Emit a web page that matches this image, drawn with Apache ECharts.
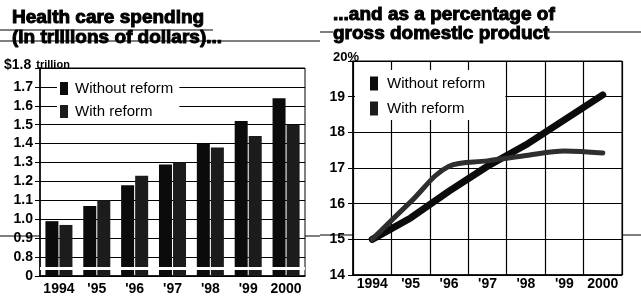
<!doctype html>
<html>
<head>
<meta charset="utf-8">
<title>Health care spending</title>
<script src="https://cdn.jsdelivr.net/npm/echarts@6/dist/echarts.min.js"></script>
<style>
    html, body { margin: 0; padding: 0; background: #fff; }
    #chart { width: 641px; height: 306px; }
</style>
</head>
<body>
<div id="chart"></div>
<script type="text/javascript">
    // years on both panels
    var years = ['1994', "'95", "'96", "'97", "'98", "'99", '2000'];
    // spending, trillions of dollars
    var spendWithout = [0.99, 1.07, 1.18, 1.29, 1.40, 1.52, 1.64];
    var spendWith = [0.97, 1.10, 1.23, 1.30, 1.38, 1.44, 1.50];
    // share of GDP, percent
    var gdpWithout = [15.0, 15.6, 16.35, 17.05, 17.65, 18.35, 19.05];
    var gdpWith = [15.0, 16.05, 17.05, 17.2, 17.35, 17.48, 17.42];
    var legendNames = ['Without reform', 'With reform'];

    var ink = '#000';
    var tickFont = { color: ink, fontSize: 14, fontWeight: 'bold', fontFamily: 'Liberation Sans' };

    function rule(x1, y1, x2, y2) {
        return { type: 'line', shape: { x1: x1, y1: y1, x2: x2, y2: y2 }, style: { stroke: ink, lineWidth: 1 } };
    }

    var myChart = echarts.init(document.getElementById('chart'));
    var option = {
        backgroundColor: '#fff',
        animation: false,
        textStyle: { fontFamily: 'Liberation Sans' },
        title: [
            {
                text: 'Health care spending\n(in trillions of dollars)...',
                left: 12, top: 8, padding: 0,
                textStyle: { fontSize: 19, fontWeight: 'bold', lineHeight: 20, color: ink, textBorderColor: ink, textBorderWidth: 1 }
            },
            {
                text: '...and as a percentage of\ngross domestic product',
                left: 333, top: 5, padding: 0,
                textStyle: { fontSize: 19, fontWeight: 'bold', lineHeight: 19, color: ink, textBorderColor: ink, textBorderWidth: 1 }
            },
            {
                text: '{a|$1.8} {b|trillion}',
                left: 4, top: 56, padding: 0,
                textStyle: {
                    rich: {
                        a: { fontSize: 14, fontWeight: 'bold', color: ink },
                        b: { fontSize: 11, fontWeight: 'bold', color: ink }
                    }
                }
            },
            {
                text: '20%',
                left: 333, top: 51, padding: 0,
                textStyle: { fontSize: 13, fontWeight: 'bold', color: ink }
            }
        ],
        legend: [
            {
                data: legendNames,
                orient: 'vertical',
                left: 57, top: 78,
                padding: [3, 6, 3, 3],
                itemWidth: 8, itemHeight: 13, itemGap: 8,
                icon: 'rect',
                backgroundColor: '#fff',
                selectedMode: false,
                textStyle: { fontSize: 15, color: ink, padding: [0, 0, 0, 2] }
            },
            {
                data: legendNames,
                orient: 'vertical',
                left: 355, top: 70,
                padding: [6, 20, 4, 15],
                itemWidth: 8, itemHeight: 14, itemGap: 10,
                icon: 'rect',
                backgroundColor: '#fff',
                selectedMode: false,
                textStyle: { fontSize: 15, color: ink, padding: [0, 0, 0, 4] }
            }
        ],
        grid: [
            { left: 40, right: 336, top: 68, bottom: 30, show: true, borderColor: ink, borderWidth: 1 },
            { left: 353, right: 19, top: 61, bottom: 31, show: true, borderColor: ink, borderWidth: 1 }
        ],
        xAxis: [
            {
                type: 'category', gridIndex: 0, data: years,
                axisLine: { lineStyle: { color: ink, width: 1.5 } },
                axisTick: { show: false },
                axisLabel: Object.assign({ margin: 6, interval: 0 }, tickFont)
            },
            {
                type: 'category', gridIndex: 1, data: years, boundaryGap: true,
                axisLine: { lineStyle: { color: ink, width: 1.5 } },
                axisTick: { show: false },
                splitLine: { show: true, lineStyle: { color: ink, width: 1.2 } },
                axisLabel: Object.assign({ margin: 2, interval: 0 }, tickFont)
            }
        ],
        yAxis: [
            {
                type: 'value', gridIndex: 0, min: 0.7, max: 1.8, interval: 0.1,
                axisLine: { show: true, lineStyle: { color: ink, width: 1.5 } },
                axisTick: { show: true, length: 5, lineStyle: { color: ink } },
                splitLine: { lineStyle: { color: ink, width: 1.2 } },
                axisLabel: Object.assign({
                    margin: 7,
                    formatter: function (v) {
                        if (v > 1.75) return '';
                        if (v < 0.75) return '0';
                        return v.toFixed(1);
                    }
                }, tickFont)
            },
            {
                type: 'value', gridIndex: 1, min: 14, max: 20, interval: 1,
                axisLine: { show: true, lineStyle: { color: ink, width: 1.5 } },
                axisTick: { show: true, length: 5, lineStyle: { color: ink } },
                splitLine: { lineStyle: { color: ink, width: 1.2 } },
                axisLabel: Object.assign({
                    margin: 8,
                    formatter: function (v) { return v === 20 ? '' : String(v); }
                }, tickFont)
            }
        ],
        series: [
            {
                name: 'Without reform', type: 'bar', xAxisIndex: 0, yAxisIndex: 0,
                data: spendWithout, barWidth: 13, barGap: '8%',
                itemStyle: { color: '#0b0b0b' },
                markLine: {
                    silent: true, symbol: 'none', label: { show: false },
                    lineStyle: { color: '#fff', width: 3, type: 'solid' },
                    data: [{ yAxis: 0.737 }]
                },
                z: 2
            },
            {
                name: 'With reform', type: 'bar', xAxisIndex: 0, yAxisIndex: 0,
                data: spendWith, barWidth: 13,
                itemStyle: { color: '#1c1c1c' },
                markLine: {
                    silent: true, symbol: 'none', label: { show: false },
                    lineStyle: { color: '#fff', width: 3, type: 'solid' },
                    data: [{ yAxis: 0.737 }]
                },
                z: 2
            },
            {
                name: 'Without reform', type: 'line', xAxisIndex: 1, yAxisIndex: 1,
                data: gdpWithout, symbol: 'none',
                itemStyle: { color: '#0b0b0b' },
                lineStyle: { color: '#0b0b0b', width: 7, cap: 'round' }
            },
            {
                name: 'With reform', type: 'line', xAxisIndex: 1, yAxisIndex: 1,
                data: gdpWith, symbol: 'none', smooth: 0.35,
                itemStyle: { color: '#1c1c1c' },
                lineStyle: { color: '#2e2e2e', width: 5, cap: 'round' }
            }
        ],
        graphic: [
            // newspaper rules and fold marks
            rule(0, 30, 213, 30),
            rule(0, 41, 320, 41),
            rule(320, 32, 333, 32),
            rule(548, 32, 641, 32),
            rule(0, 236, 40, 236),
            rule(305, 236, 320, 236),
            rule(320, 235, 353, 235),
            rule(622, 235, 641, 235)
        ]
    };

    myChart.setOption(option);
</script>
</body>
</html>
